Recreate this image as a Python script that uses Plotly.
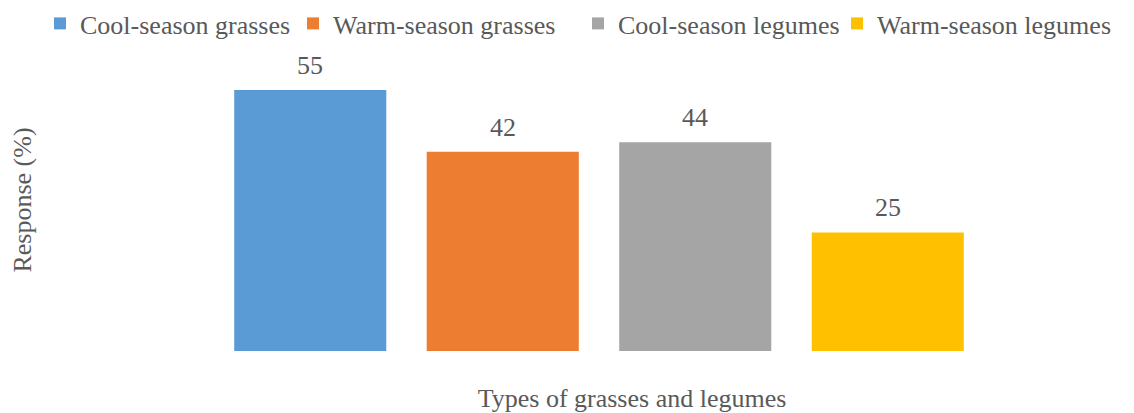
import plotly.graph_objects as go

categories = ["Cool-season grasses", "Warm-season grasses", "Cool-season legumes", "Warm-season legumes"]
values = [55, 42, 44, 25]
colors = ["#5B9BD5", "#ED7D31", "#A5A5A5", "#FFC000"]

FONT = "Liberation Serif, Times New Roman, serif"
TXT = "#595959"
FS = 26

W, H = 1134, 413
left, right_edge = 214, 1050
top, bottom_edge = 49, 351
legend_x = [40, 293, 578, 837]

fig = go.Figure()
legend_names = ["legend", "legend2", "legend3", "legend4"]
for cat, val, col, lg in zip(categories, values, colors, legend_names):
    fig.add_trace(go.Bar(
        x=[cat], y=[val], name=cat, marker_color=col, marker_line_width=0,
        width=0.79, legend=lg, showlegend=True,
    ))
    fig.add_annotation(x=cat, y=val, text=str(val), showarrow=False, yanchor="bottom",
                       yshift=8, font=dict(family=FONT, size=FS, color=TXT))

layout_legends = {}
for lg, lx in zip(legend_names, legend_x):
    layout_legends[lg] = dict(orientation="h", xref="container", yref="container", x=lx / W,
                              xanchor="left", y=1.0, yanchor="top",
                              font=dict(family=FONT, size=FS, color=TXT),
                              bgcolor="rgba(0,0,0,0)", itemclick=False, itemdoubleclick=False)

fig.update_layout(
    width=W, height=H,
    margin=dict(l=left, r=W - right_edge, t=top, b=H - bottom_edge, autoexpand=False),
    paper_bgcolor="white", plot_bgcolor="white",
    font=dict(family=FONT, size=FS, color=TXT),
    barmode="overlay",
    showlegend=True,
    xaxis=dict(type="category", categoryorder="array", categoryarray=categories,
               range=[-0.5, (right_edge - left) / 192.5 - 0.5],
               showticklabels=False, showline=False, showgrid=False, zeroline=False, ticks="",
               title=dict(text="Types of grasses and legumes", font=dict(family=FONT, size=FS, color=TXT), standoff=40)),
    yaxis=dict(range=[0, 63.65], showticklabels=False, showline=False, showgrid=False, zeroline=False, ticks="",
               title=dict(text="Response (%)", font=dict(family=FONT, size=FS, color=TXT), standoff=173)),
    **layout_legends,
)

fig.write_html("out.html", config={"displayModeBar": False},
               post_script="document.body.style.margin='0';")
